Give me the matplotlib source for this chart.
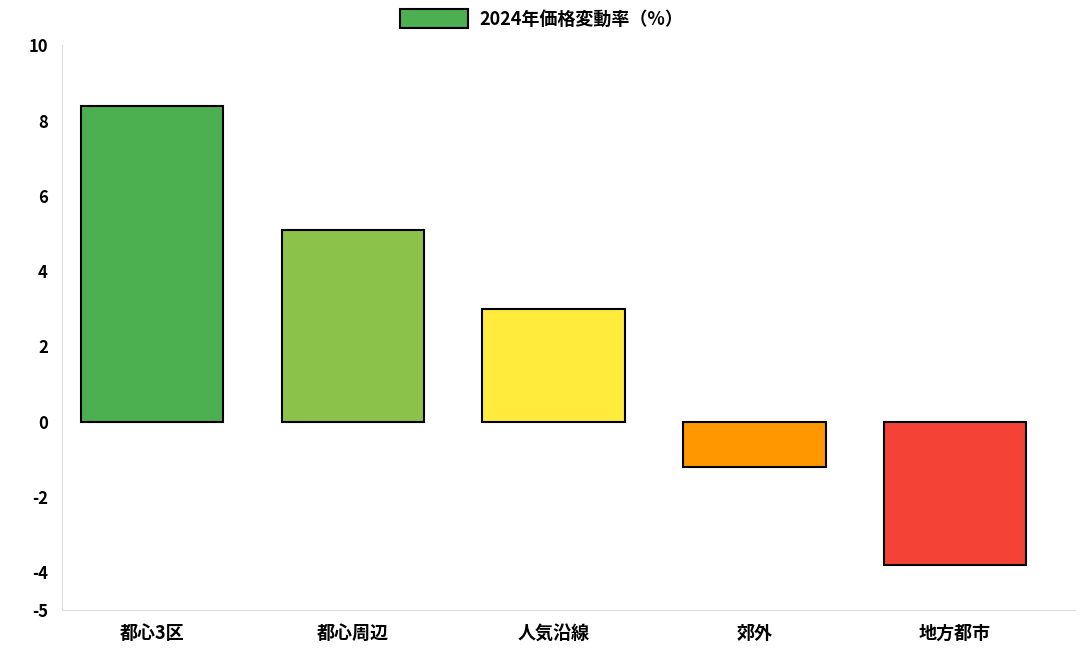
import matplotlib
matplotlib.use("Agg")
import matplotlib.pyplot as plt
from matplotlib.patches import Patch

plt.rcParams['font.family'] = ['Noto Sans CJK JP', 'DejaVu Sans']

categories = ["都心3区", "都心周辺", "人気沿線", "郊外", "地方都市"]
values = [8.4, 5.1, 3.0, -1.2, -3.8]
colors = ["#4caf50", "#8bc34a", "#ffeb3b", "#ff9800", "#f44336"]
yticks = [10, 8, 6, 4, 2, 0, -2, -4, -5]
legend_label = "2024年価格変動率（%）"

fig = plt.figure(figsize=(10.83, 6.66), dpi=100)
ax = fig.add_axes([0.057, 0.084, 0.936, 0.848])
x = range(len(categories))
ax.bar(x, values, width=0.71, color=colors, edgecolor="black", linewidth=1.5)
ax.set_xlim(-0.45, 4.6)
ax.set_ylim(-5, 10)
ax.set_yticks(yticks)
ax.set_yticklabels([str(t) for t in yticks], fontsize=12, fontweight="bold")
ax.set_xticks(list(x))
ax.set_xticklabels(categories, fontsize=13, fontweight="bold")
ax.tick_params(length=0, pad=10)
for s in ["top", "right"]:
    ax.spines[s].set_visible(False)
for s in ["left", "bottom"]:
    ax.spines[s].set_color("#dddddd")
fig.legend(handles=[Patch(facecolor=colors[0], edgecolor="black", linewidth=1.5, label=legend_label)],
           loc="center", bbox_to_anchor=(0.5, 0.972), frameon=False,
           prop={'family': ['Noto Sans CJK JP', 'DejaVu Sans'], 'weight': 'bold', 'size': 13},
           handlelength=3.8, handleheight=1.3, handletextpad=0.6)
fig.savefig("out.png", dpi=100)
